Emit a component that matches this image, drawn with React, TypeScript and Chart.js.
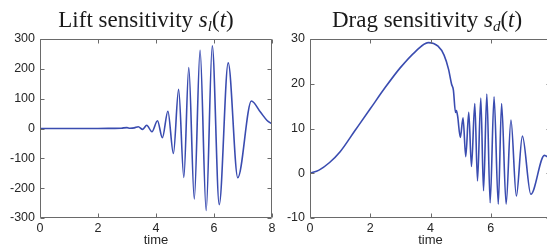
import React, { useEffect, useRef } from 'react';
import { Chart, registerables } from 'chart.js';

Chart.register(...registerables);

// ---- data ----
const timeTicks = [0, 2, 4, 6, 8];
const liftTicks = [-300, -200, -100, 0, 100, 200, 300];
const dragTicks = [-10, 0, 10, 20, 30];

const liftTime = [0, 1, 2, 2.5, 2.8, 3.0, 3.1, 3.25, 3.39, 3.54, 3.68, 3.86, 4.05, 4.22, 4.41, 4.6, 4.78, 4.96, 5.13, 5.32, 5.52, 5.73, 5.94, 6.18, 6.49, 6.82, 7.29, 7.6, 7.83, 8.0];
const liftValue = [0, 0, 0, 0.5, 1, 3, 1, 2, 6, -3, 11, -11, 26, -31, 58, -84, 131, -164, 204, -236, 262, -275, 277, -255, 220, -165, 92, 55, 27, 15];

const dragTime = [0, 0.3, 0.65, 1.0, 1.5, 2.0, 2.5, 3.0, 3.5, 3.92, 4.25, 4.45, 4.6, 4.7, 4.76, 4.83, 4.86, 4.9, 4.99, 5.08, 5.17, 5.27, 5.36, 5.47, 5.56, 5.67, 5.76, 5.87, 5.98, 6.11, 6.25, 6.36, 6.51, 6.67, 6.85, 7.05, 7.33, 7.78, 8.0];
const dragValue = [0, 0.7, 2.4, 4.8, 9.6, 14.4, 19.2, 23.6, 27.2, 29.2, 28.4, 26.4, 23.2, 19.9, 18.6, 13.6, 14.0, 12.8, 8.0, 12.4, 3.7, 13.6, 1.5, 15.6, -1.7, 16.8, -3.9, 17.7, -6.6, 17.1, -6.9, 15.6, -6.9, 11.9, -5.1, 8.3, -4.7, 4.0, 3.0];

const LINE_COLOR = '#3a4cb0';
const AXIS_COLOR = '#6a6a6a';
const TEXT_COLOR = '#262626';
const SANS = '"Liberation Sans", Arial, sans-serif';
const SERIF = '"Liberation Serif", "Times New Roman", serif';

type Part = { text: string; italic?: boolean; sub?: boolean };

function makeTitlePlugin(cx: number, baseline: number, parts: Part[]) {
  return {
    id: 'mathTitle',
    afterDraw(chart: any) {
      const ctx = chart.ctx as CanvasRenderingContext2D;
      ctx.save();
      ctx.fillStyle = '#1a1a1a';
      ctx.textBaseline = 'alphabetic';
      ctx.textAlign = 'left';
      const fontOf = (p: Part) => `${p.italic ? 'italic ' : ''}${p.sub ? 15 : 23}px ${SERIF}`;
      let total = 0;
      const widths = parts.map((p) => {
        ctx.font = fontOf(p);
        const w = ctx.measureText(p.text).width;
        total += w;
        return w;
      });
      let x = cx - total / 2;
      parts.forEach((p, i) => {
        ctx.font = fontOf(p);
        ctx.fillText(p.text, x, baseline + (p.sub ? 4 : 0));
        x += widths[i];
      });
      ctx.restore();
    },
  };
}

const boxPlugin = {
  id: 'matlabBox',
  afterDatasetsDraw(chart: any) {
    const { ctx, chartArea: a, scales } = chart;
    const L = Math.round(a.left) + 0.5;
    const R = Math.round(a.right) - 0.5;
    const T = Math.round(a.top) + 0.5;
    const B = Math.round(a.bottom) - 0.5;
    const len = 4;
    ctx.save();
    ctx.strokeStyle = AXIS_COLOR;
    ctx.lineWidth = 1;
    ctx.beginPath();
    ctx.rect(L, T, R - L, B - T);
    for (const t of scales.x.ticks) {
      const x = Math.round(scales.x.getPixelForValue(t.value)) + 0.5;
      ctx.moveTo(x, B);
      ctx.lineTo(x, B - len);
      ctx.moveTo(x, T);
      ctx.lineTo(x, T + len);
    }
    for (const t of scales.y.ticks) {
      const y = Math.round(scales.y.getPixelForValue(t.value)) + 0.5;
      ctx.moveTo(L, y);
      ctx.lineTo(L + len, y);
      ctx.moveTo(R, y);
      ctx.lineTo(R - len, y);
    }
    ctx.stroke();
    ctx.restore();
  },
};

type Props = {
  left: number;
  width: number;
  padRight: number;
  titleX: number;
  parts: Part[];
  times: number[];
  values: number[];
  yTicks: number[];
};

function SensitivityChart({ left, width, padRight, titleX, parts, times, values, yTicks }: Props) {
  const ref = useRef<HTMLCanvasElement>(null);
  useEffect(() => {
    const chart = new Chart(ref.current as HTMLCanvasElement, {
      type: 'line',
      data: {
        datasets: [
          {
            data: times.map((t, i) => ({ x: t, y: values[i] })),
            borderColor: LINE_COLOR,
            borderWidth: 1.6,
            pointRadius: 0,
            fill: false,
            cubicInterpolationMode: 'monotone',
          },
        ],
      },
      options: {
        animation: false,
        responsive: false,
        maintainAspectRatio: false,
        layout: { padding: { left: 0, right: padRight, top: 39, bottom: 0 } },
        plugins: {
          legend: { display: false },
          tooltip: { enabled: false },
          title: { display: false },
        },
        scales: {
          x: {
            type: 'linear',
            min: timeTicks[0],
            max: timeTicks[timeTicks.length - 1],
            afterBuildTicks: (s: any) => {
              s.ticks = timeTicks.map((v) => ({ value: v }));
            },
            ticks: { font: { family: SANS, size: 12.5 }, color: TEXT_COLOR, padding: 3, maxRotation: 0, autoSkip: false },
            grid: { display: false, drawTicks: false },
            border: { display: false },
            title: {
              display: true,
              text: 'time',
              font: { family: SANS, size: 13 },
              color: TEXT_COLOR,
              padding: { top: 0, bottom: 1 },
            },
            afterFit: (s: any) => {
              s.height = 31;
            },
          },
          y: {
            type: 'linear',
            min: yTicks[0],
            max: yTicks[yTicks.length - 1],
            afterBuildTicks: (s: any) => {
              s.ticks = yTicks.map((v) => ({ value: v }));
            },
            ticks: { font: { family: SANS, size: 12.5 }, color: TEXT_COLOR, padding: 5, autoSkip: false },
            grid: { display: false, drawTicks: false },
            border: { display: false },
            afterFit: (s: any) => {
              s.width = 40;
            },
          },
        },
      } as any,
      plugins: [boxPlugin, makeTitlePlugin(titleX, 27, parts)],
    });
    return () => chart.destroy();
  }, []);
  return (
    <canvas
      ref={ref}
      width={width}
      height={249}
      style={{ position: 'absolute', left, top: 0, width, height: 249, display: 'block' }}
    />
  );
}

export default function App() {
  return (
    <div
      style={{
        position: 'fixed',
        left: 0,
        top: 0,
        width: 547,
        height: 249,
        overflow: 'hidden',
        background: '#ffffff',
      }}
    >
      <SensitivityChart
        left={0}
        width={280}
        padRight={8}
        titleX={146}
        parts={[
          { text: 'Lift sensitivity ' },
          { text: 's', italic: true },
          { text: 'l', italic: true, sub: true },
          { text: '(' },
          { text: 't', italic: true },
          { text: ')' },
        ]}
        times={liftTime}
        values={liftValue}
        yTicks={liftTicks}
      />
      <SensitivityChart
        left={270}
        width={290}
        padRight={9}
        titleX={157}
        parts={[
          { text: 'Drag sensitivity ' },
          { text: 's', italic: true },
          { text: 'd', italic: true, sub: true },
          { text: '(' },
          { text: 't', italic: true },
          { text: ')' },
        ]}
        times={dragTime}
        values={dragValue}
        yTicks={dragTicks}
      />
    </div>
  );
}
